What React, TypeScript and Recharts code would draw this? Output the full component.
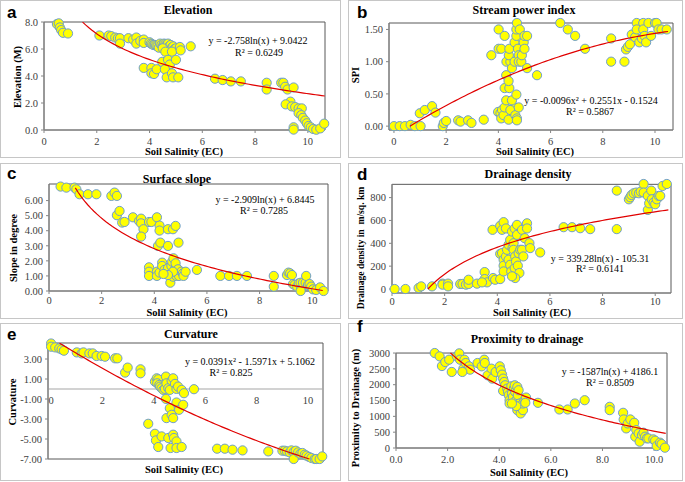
import React from "react";
import {
  ScatterChart,
  Scatter,
  XAxis,
  YAxis,
  ReferenceArea,
  ReferenceLine,
} from "recharts";

const SERIF = '"Liberation Serif", "Times New Roman", serif';
const SANS = '"Liberation Sans", Arial, sans-serif';

const MARKER_FILL = "#ffff00";
const MARKER_STROKE = "#6c9dcf";
const TREND_COLOR = "#e00000";
const AXIS_COLOR = "#868686";
const FRAME_COLOR = "#595959";

// [soil salinity EC, value]
const elevationPts = [
  [0.49, 7.85], [0.56, 7.9], [0.6, 7.6], [0.65, 7.4], [0.72, 7.2], [0.91, 7.15],
  [2.1, 7.0], [2.45, 7.0], [2.55, 6.95], [2.7, 6.85], [2.8, 6.8], [2.88, 6.8], [2.88, 6.4],
  [3.2, 6.8], [3.38, 6.7], [3.5, 6.85], [3.5, 6.4], [3.65, 6.6], [3.78, 6.7], [3.78, 6.45],
  [4.0, 6.5], [4.05, 6.4], [4.1, 6.35], [4.15, 6.3], [4.2, 6.3], [4.25, 6.25], [4.3, 6.2],
  [4.35, 6.1], [4.4, 6.4], [4.45, 6.3], [4.5, 6.2], [4.55, 6.4], [4.6, 6.35], [4.65, 6.3],
  [4.7, 6.4], [4.75, 6.2], [4.8, 6.3], [4.85, 6.1], [4.9, 6.2], [4.95, 6.0], [5.0, 6.05],
  [4.5, 6.05], [4.6, 5.8], [4.85, 5.8], [5.15, 6.15], [5.18, 5.9], [5.56, 6.2],
  [4.48, 5.05], [4.7, 5.2], [4.77, 4.85], [5.0, 5.2],
  [3.78, 4.6], [4.07, 4.6], [4.07, 4.2], [4.17, 4.15], [4.27, 4.5], [4.58, 4.5], [4.65, 3.9],
  [4.85, 4.2], [4.89, 3.9], [5.09, 3.9],
  [6.48, 3.8], [6.77, 3.7], [7.08, 3.6], [7.46, 3.6],
  [8.44, 3.5], [8.44, 3.0], [8.99, 3.5], [9.07, 3.5], [9.14, 3.2], [9.23, 3.0], [9.46, 3.15],
  [9.34, 2.1], [9.16, 1.9], [9.39, 1.75], [9.52, 1.7], [9.65, 1.6], [9.77, 1.6], [9.65, 1.25],
  [9.75, 1.1], [9.81, 0.9], [9.9, 0.7], [9.96, 0.5], [10.03, 0.3], [10.11, 0.2], [10.2, 0.08],
  [10.32, 0.02], [9.46, 0.2], [9.46, 0.03], [10.47, 0.12], [10.62, 0.47],
];

const spiPts = [
  [0, 0], [0.22, 0], [0.42, 0], [0.64, 0.02], [0.8, 0], [1.02, 0], [0.99, 0.2], [1.18, 0.25],
  [1.46, 0.31], [1.59, 0.21], [1.87, 0], [1.91, 0.05], [2.0, 0.08], [2.46, 0.09], [2.55, 0.07],
  [2.84, 0.09], [2.97, 0.05], [3.44, 0.1],
  [3.73, 1.1], [4.01, 1.5], [4.01, 1.2], [4.11, 1.2], [4.24, 1.4], [3.99, 0.22], [4.08, 0.2],
  [4.14, 0.25], [4.11, 0.12], [4.2, 0.17], [4.24, 0.29], [4.3, 0.4], [4.24, 0.59], [4.42, 0.59],
  [4.3, 0.79], [4.39, 0.7], [4.31, 1.0], [4.46, 1.0], [4.4, 1.1], [4.42, 1.2], [4.52, 0.9],
  [4.62, 1.0], [4.62, 1.3], [4.62, 0.29], [4.55, 0.13], [4.39, 0.1], [4.46, 0.25], [4.52, 0.4],
  [4.65, 0.17], [4.71, 0.12], [4.71, 0.09], [4.69, 0.49], [4.69, 1.4], [4.69, 1.5], [4.71, 1.6],
  [4.75, 1.2], [4.78, 1.1], [4.78, 1.0], [4.78, 0.29], [4.82, 1.5], [4.88, 1.0], [4.9, 1.1],
  [4.97, 1.3], [5.0, 1.4], [5.0, 1.2], [5.1, 1.4], [5.1, 0.9], [5.48, 0.79],
  [6.37, 1.6], [6.66, 1.5], [6.94, 1.4], [7.32, 1.2],
  [8.32, 1.0], [8.32, 1.36], [8.83, 1.0], [8.89, 1.19], [8.96, 1.23], [9.04, 1.27], [9.11, 1.42],
  [9.24, 1.38], [9.3, 1.6], [9.3, 1.5], [9.4, 1.3], [9.5, 1.36], [9.55, 1.6], [9.55, 1.5],
  [9.6, 1.4], [9.66, 1.3], [9.75, 1.6], [9.85, 1.4], [10.0, 1.6], [10.06, 1.6], [10.13, 1.5],
  [10.25, 1.5], [10.45, 1.5],
];

const slopePts = [
  [0.44, 6.93], [0.66, 6.86], [0.97, 6.86], [1.04, 6.75], [1.16, 6.42], [1.48, 6.42], [1.8, 6.42],
  [2.37, 6.31], [2.49, 6.53], [2.58, 6.31], [2.58, 5.03], [2.68, 5.31], [2.78, 4.54], [2.87, 4.58],
  [3.19, 4.89], [3.42, 4.65], [3.5, 4.8], [3.5, 4.49], [3.59, 4.1], [3.5, 3.61], [3.8, 4.58],
  [3.89, 4.58], [4.1, 4.89], [4.2, 4.34], [4.2, 4.01], [4.14, 2.99], [4.23, 3.21], [4.52, 2.99],
  [4.52, 4.1], [4.71, 4.1], [4.81, 4.32], [4.92, 3.21],
  [3.8, 1.57], [3.8, 1.28], [3.8, 1.0], [4.1, 1.28], [4.1, 1.0], [4.2, 1.22], [4.3, 1.88],
  [4.3, 1.66], [4.39, 1.4], [4.46, 1.17], [4.52, 1.5], [4.58, 1.06], [4.61, 0.55], [4.65, 1.66],
  [4.68, 1.95], [4.71, 0.95], [4.73, 2.17], [4.77, 1.4], [4.81, 1.84], [4.84, 1.0], [4.9, 1.22],
  [4.9, 1.44], [4.94, 1.0], [5.03, 1.28], [5.09, 1.17], [5.11, 1.0], [5.19, 1.28], [4.71, 1.28],
  [4.52, 1.06], [4.35, 1.13],
  [5.62, 1.4], [6.51, 1.0], [6.84, 1.0], [7.14, 1.0], [7.52, 1.0],
  [8.54, 1.0], [8.54, 0.29], [9.04, 1.06], [9.1, 1.22], [9.16, 1.17], [9.23, 1.06], [9.27, 0.46],
  [9.33, 0.4], [9.43, 0.29], [9.49, 0.51], [9.56, 0.55], [9.58, 0.11], [9.56, 0.0], [9.65, 0.55],
  [9.75, 0.55], [9.77, 1.0], [9.84, 0.4], [9.9, 0.46], [9.96, 0.29], [10.03, 0.11], [10.15, 0.07],
  [10.3, 0.24], [10.43, 0.0],
];

const drainagePts = [
  [0.1, 0], [0.51, 0], [1.01, 9], [1.11, 23], [1.52, 23], [1.92, 47], [1.92, 38], [2.13, 47],
  [2.13, 23], [2.59, 44], [2.68, 44], [2.81, 38], [2.91, 44], [2.91, 81], [3.23, 47], [3.52, 148],
  [3.52, 87], [3.61, 58], [3.42, 58], [3.84, 96], [3.82, 518], [3.92, 81], [4.11, 87],
  [4.11, 308], [4.11, 553], [4.18, 518], [4.24, 585], [4.18, 314], [4.24, 256], [4.24, 204],
  [4.24, 154], [4.33, 285], [4.33, 530], [4.37, 343], [4.43, 387], [4.43, 256], [4.49, 430],
  [4.49, 212], [4.53, 154], [4.56, 503], [4.58, 358], [4.62, 401], [4.62, 343], [4.66, 183],
  [4.66, 530], [4.68, 285], [4.71, 241], [4.75, 561], [4.75, 474], [4.78, 204], [4.81, 314],
  [4.84, 140], [4.87, 343], [4.94, 518], [4.94, 343], [4.99, 285], [5.04, 445], [5.13, 575],
  [5.13, 530], [5.22, 401], [5.25, 358], [5.63, 320], [4.68, 96], [4.56, 111],
  [6.52, 541], [6.84, 541], [7.15, 532], [7.53, 524],
  [8.54, 524], [8.54, 861], [9.0, 785], [9.05, 803], [9.1, 823], [9.18, 838], [9.28, 844],
  [9.38, 838], [9.45, 852], [9.56, 919], [9.56, 844], [9.72, 815], [9.72, 692], [9.77, 750],
  [9.85, 861], [9.87, 785], [9.94, 756], [10.0, 742], [10.06, 785], [10.13, 815], [10.19, 815],
  [10.28, 902], [10.44, 919],
];

const curvaturePts = [
  [0, 4.55], [0, 4.23], [0.16, 4.16], [0.32, 4.06], [0.41, 3.96], [0.5, 3.83], [1.0, 3.66],
  [1.19, 3.56], [1.26, 3.66], [1.49, 3.56], [1.62, 3.56], [1.77, 3.3], [1.97, 3.3], [2.1, 3.23],
  [2.49, 3.07], [2.58, 3.07], [2.88, 1.64], [2.98, 2.14], [3.48, 1.97], [3.48, 1.57],
  [3.78, -3.48], [4.04, 0.74], [4.11, 1.07], [4.17, 0.97], [4.13, 0.57], [4.21, 0.41],
  [4.24, 0.24], [4.3, 0.08], [4.37, -0.09], [4.43, 0.01], [4.47, 1.24], [4.49, 0.57], [4.56, 0.08],
  [4.62, -0.09], [4.69, 0.84], [4.75, 1.07], [4.82, 0.51], [4.88, 0.01], [4.94, 0.24],
  [5.08, -0.09], [5.17, -0.42], [5.56, -0.02], [4.47, -0.99], [4.62, -1.92], [4.49, -2.91],
  [4.69, -2.58], [4.75, -2.91], [4.88, -1.35], [4.98, -2.08], [5.14, -1.58],
  [4.04, -4.48], [4.08, -5.14], [4.17, -5.8], [4.3, -4.74], [4.56, -4.9], [4.75, -4.57],
  [4.78, -4.9], [4.88, -5.24], [4.65, -5.9], [4.88, -5.9], [5.08, -5.8],
  [6.46, -5.97], [6.76, -5.97], [7.06, -6.07], [7.45, -6.14],
  [8.45, -6.24], [9.0, -6.17], [9.09, -6.17], [9.18, -6.24], [9.29, -6.34], [9.35, -6.14],
  [9.44, -6.3], [9.52, -6.17], [9.44, -7.0], [9.61, -6.34], [9.7, -6.47], [9.78, -6.4],
  [9.87, -6.57], [9.94, -6.67], [10.04, -6.8], [10.13, -6.9], [10.26, -7.0], [10.32, -7.0],
  [10.45, -7.0], [10.55, -6.74],
];

const proximityPts = [
  [1.5, 3000], [1.69, 2895], [1.78, 2590], [1.91, 2716], [2.06, 2790], [2.16, 2402], [2.36, 2895],
  [2.45, 2990], [2.48, 2790], [2.61, 2507], [2.65, 2790], [2.7, 2685], [2.83, 2580], [2.87, 2475],
  [2.57, 2402], [3.16, 2685], [3.32, 2580], [3.42, 2790], [3.44, 2685], [3.55, 2297], [3.7, 2507],
  [3.73, 2192], [3.86, 2402], [4.02, 2580], [4.06, 2455], [4.11, 2318], [4.15, 2192], [4.19, 2087],
  [4.23, 1982], [4.25, 1804], [4.15, 1804], [4.31, 1877], [4.34, 1773], [4.37, 1668], [4.4, 1510],
  [4.4, 1406], [4.47, 1951], [4.49, 1720], [4.53, 1615], [4.57, 1877], [4.6, 1982], [4.62, 1773],
  [4.66, 1510], [4.7, 1930], [4.72, 1668], [4.75, 1825], [4.79, 1406], [4.7, 1196], [4.83, 1248],
  [4.83, 1091], [4.92, 1196], [4.92, 1406], [4.98, 1510], [5.04, 1594], [5.01, 1427], [4.66, 1322],
  [4.49, 1406],
  [5.5, 1427], [6.33, 1217], [6.65, 1217], [6.93, 1406], [7.31, 1510],
  [8.28, 1301], [8.28, 1196], [8.8, 1112], [8.82, 902], [8.92, 619], [8.98, 776], [9.08, 902],
  [9.23, 797], [9.27, 357], [9.31, 566], [9.4, 462], [9.44, 199], [9.53, 409], [9.59, 483],
  [9.65, 357], [9.72, 304], [9.78, 304], [9.97, 273], [10.04, 231], [10.1, 63], [10.23, 168],
  [10.29, 126], [10.42, 10],
];

// trend lines as printed on each panel
const elevationFit = (x: number) => -2.758 * Math.log(x) + 9.0422;
const spiFit = (x: number) => -0.0096 * x * x + 0.2551 * x - 0.1524;
const slopeFit = (x: number) => -2.909 * Math.log(x) + 6.8445;
const drainageFit = (x: number) => 339.28 * Math.log(x) - 105.31;
const curvatureFit = (x: number) => 0.0391 * x * x - 1.5971 * x + 5.1062;
const proximityFit = (x: number) => -1587 * Math.log(x) + 4186.1;

const xTicks = [0, 2, 4, 6, 8, 10];

function trendPoints(f: (x: number) => number, x0: number, x1: number) {
  const out = [];
  for (let i = 0; i <= 80; i++) {
    const x = x0 + ((x1 - x0) * i) / 80;
    out.push({ x, y: f(x) });
  }
  return out;
}

const toXY = (arr: number[][]) => arr.map(([x, y]) => ({ x, y }));

function Dot(props: any) {
  const { cx, cy } = props;
  if (cx == null || cy == null) return <g />;
  return (
    <circle
      cx={cx}
      cy={cy}
      r={4.6}
      fill={MARKER_FILL}
      stroke={MARKER_STROKE}
      strokeWidth={1}
    />
  );
}

const NoDot = () => <g />;

const tickStyle = { fill: "#404040", fontSize: 10.5, fontFamily: SERIF };

interface PanelProps {
  box: number[];
  plot: number[];
  xDomain: number[];
  yDomain: number[];
  yTicks: number[];
  xFmt: (v: number) => string;
  yFmt: (v: number) => string;
  pts: number[][];
  trend: { x: number; y: number }[];
  zeroAxis?: boolean;
  xTickMargin?: number;
  letter: string;
  letterPos: number[];
  title: string;
  titlePos: number[];
  eq: string;
  eqPos: number[];
  r2: string;
  r2Pos: number[];
  xLabel: string;
  xLabelPos: number[];
  yLabel: string;
  yLabelPos: number[];
  yLabelSize?: number;
}

function Panel(p: PanelProps) {
  const [fx, fy, fw, fh] = p.box;
  const [pl, pt, pr, pb] = p.plot;
  const zeroOffset =
    ((pb - pt) * (0 - p.yDomain[0])) / (p.yDomain[1] - p.yDomain[0]);

  const zeroTick = (props: any) => (
    <text
      x={props.x}
      y={props.y - zeroOffset}
      dy={15}
      textAnchor="middle"
      {...tickStyle}
    >
      {p.xFmt(props.payload.value)}
    </text>
  );

  return (
    <>
      <div
        style={{
          position: "absolute",
          left: fx,
          top: fy,
          width: fw,
          height: fh,
          boxSizing: "border-box",
          border: "1px solid #c6c6c6",
        }}
      />
      <div style={{ position: "absolute", left: fx, top: fy }}>
        <ScatterChart
          width={fw}
          height={fh}
          margin={{ top: pt - fy, right: fx + fw - pr, bottom: 0, left: 0 }}
        >
          <XAxis
            type="number"
            dataKey="x"
            domain={p.xDomain}
            ticks={xTicks}
            interval={0}
            height={fy + fh - pb}
            stroke={AXIS_COLOR}
            axisLine={!p.zeroAxis}
            tickLine={!p.zeroAxis}
            tickSize={p.zeroAxis ? 0 : 3}
            tickMargin={p.zeroAxis ? 0 : p.xTickMargin ?? 5}
            tick={p.zeroAxis ? zeroTick : tickStyle}
            tickFormatter={p.xFmt}
          />
          <YAxis
            type="number"
            dataKey="y"
            domain={p.yDomain}
            ticks={p.yTicks}
            interval={0}
            width={pl - fx}
            stroke={AXIS_COLOR}
            tickSize={3}
            tickMargin={3}
            tick={tickStyle}
            tickFormatter={p.yFmt}
          />
          <ReferenceArea
            x1={p.xDomain[0]}
            x2={p.xDomain[1]}
            y1={p.yDomain[0]}
            y2={p.yDomain[1]}
            fill="none"
            stroke={FRAME_COLOR}
            strokeWidth={1}
            ifOverflow="visible"
          />
          {p.zeroAxis && (
            <ReferenceLine y={0} stroke="#a6a6a6" strokeWidth={1.2} />
          )}
          <Scatter
            data={toXY(p.pts)}
            shape={Dot}
            isAnimationActive={false}
          />
          <Scatter
            data={p.trend}
            shape={NoDot}
            line={{ stroke: TREND_COLOR, strokeWidth: 1.2 }}
            lineType="joint"
            isAnimationActive={false}
          />
        </ScatterChart>
      </div>
      <svg
        width={685}
        height={482}
        style={{ position: "absolute", left: 0, top: 0, pointerEvents: "none" }}
      >
        <text
          x={p.letterPos[0]}
          y={p.letterPos[1]}
          fontFamily={SANS}
          fontWeight="bold"
          fontSize={17}
          fill="#000"
        >
          {p.letter}
        </text>
        <text
          x={p.titlePos[0]}
          y={p.titlePos[1]}
          textAnchor="middle"
          fontFamily={SERIF}
          fontWeight="bold"
          fontSize={12}
          fill="#000"
        >
          {p.title}
        </text>
        <text
          x={p.eqPos[0]}
          y={p.eqPos[1]}
          textAnchor="middle"
          fontFamily={SERIF}
          fontSize={10}
          fill="#000"
        >
          {p.eq}
        </text>
        <text
          x={p.r2Pos[0]}
          y={p.r2Pos[1]}
          textAnchor="middle"
          fontFamily={SERIF}
          fontSize={10}
          fill="#000"
        >
          {p.r2}
        </text>
        <text
          x={p.xLabelPos[0]}
          y={p.xLabelPos[1]}
          textAnchor="middle"
          fontFamily={SERIF}
          fontWeight="bold"
          fontSize={10.5}
          fill="#000"
        >
          {p.xLabel}
        </text>
        <text
          transform={`translate(${p.yLabelPos[0]},${p.yLabelPos[1]}) rotate(-90)`}
          textAnchor="middle"
          fontFamily={SERIF}
          fontWeight="bold"
          fontSize={p.yLabelSize ?? 10.5}
          fill="#000"
          style={{ whiteSpace: "pre" }}
        >
          {p.yLabel}
        </text>
      </svg>
    </>
  );
}

const int = (v: number) => String(v);
const fix1 = (v: number) => v.toFixed(1);
const fix2 = (v: number) => v.toFixed(2);

export default function App() {
  return (
    <div
      style={{
        position: "absolute",
        left: 0,
        top: 0,
        width: 685,
        height: 482,
        background: "#fff",
      }}
    >
      <Panel
        box={[0, 0, 341, 158]}
        plot={[44, 22, 325, 130]}
        xDomain={[0, 10.65]}
        yDomain={[0, 8]}
        yTicks={[0, 2, 4, 6, 8]}
        xFmt={int}
        yFmt={fix1}
        pts={elevationPts}
        trend={trendPoints(elevationFit, 1.462, 10.64)}
        letter="a"
        letterPos={[7, 18]}
        title="Elevation"
        titlePos={[188, 14]}
        eq="y = -2.758ln(x) + 9.0422"
        eqPos={[258, 44]}
        r2="R² = 0.6249"
        r2Pos={[259, 56]}
        xLabel="Soil Salinity (EC)"
        xLabelPos={[184, 155]}
        yLabel="Elevation (M)"
        yLabelPos={[21, 77]}
      />
      <Panel
        box={[348, 0, 335, 158]}
        plot={[389, 23, 673, 130]}
        xDomain={[-0.19, 10.69]}
        yDomain={[-0.06, 1.6]}
        yTicks={[0, 0.5, 1, 1.5]}
        xFmt={int}
        yFmt={fix2}
        pts={spiPts}
        trend={trendPoints(spiFit, 0.61, 10.5)}
        letter="b"
        letterPos={[357, 18]}
        title="Stream power index"
        titlePos={[524, 14]}
        eq="y = -0.0096x² + 0.2551x - 0.1524"
        eqPos={[591, 104]}
        r2="R² = 0.5867"
        r2Pos={[590, 115]}
        xLabel="Soil Salinity (EC)"
        xLabelPos={[535, 155]}
        yLabel="SPI"
        yLabelPos={[359, 75]}
      />
      <Panel
        box={[0, 163, 341, 156]}
        plot={[49, 184, 328, 291]}
        xDomain={[0, 10.6]}
        yDomain={[0, 7.1]}
        yTicks={[0, 1, 2, 3, 4, 5, 6]}
        xFmt={int}
        yFmt={fix2}
        pts={slopePts}
        trend={trendPoints(slopeFit, 1.0, 10.4)}
        xTickMargin={3}
        letter="c"
        letterPos={[7, 179]}
        title="Surface slope"
        titlePos={[177, 183]}
        eq="y = -2.909ln(x) + 6.8445"
        eqPos={[265, 203]}
        r2="R² = 0.7285"
        r2Pos={[264, 214]}
        xLabel="Solil Salinity (EC)"
        xLabelPos={[187, 315.5]}
        yLabel="Slope in degree"
        yLabelPos={[17, 248]}
      />
      <Panel
        box={[348, 163, 335, 156]}
        plot={[392, 184, 671, 293]}
        xDomain={[0, 10.6]}
        yDomain={[-35, 916]}
        yTicks={[0, 200, 400, 600, 800]}
        xFmt={int}
        yFmt={int}
        pts={drainagePts}
        trend={trendPoints(drainageFit, 1.364, 10.5)}
        xTickMargin={2}
        letter="d"
        letterPos={[357, 180]}
        title="Drainage density"
        titlePos={[528, 178]}
        eq="y = 339.28ln(x) - 105.31"
        eqPos={[600, 262]}
        r2="R² = 0.6141"
        r2Pos={[600, 272]}
        xLabel="Soil Salinity (EC)"
        xLabelPos={[532, 316]}
        yLabel="Drainage density in  m/sq. km"
        yLabelPos={[364, 248]}
        yLabelSize={9.6}
      />
      <Panel
        box={[0, 323, 341, 158]}
        plot={[48, 343, 323, 459]}
        xDomain={[-0.12, 10.58]}
        yDomain={[-7, 4.6]}
        yTicks={[-7, -5, -3, -1, 1, 3]}
        xFmt={int}
        yFmt={fix2}
        pts={curvaturePts}
        trend={trendPoints(curvatureFit, 0.33, 10.05)}
        zeroAxis
        letter="e"
        letterPos={[7, 340]}
        title="Curvature"
        titlePos={[191, 338]}
        eq="y = 0.0391x² - 1.5971x + 5.1062"
        eqPos={[250, 365]}
        r2="R² = 0.825"
        r2Pos={[231, 376]}
        xLabel="Soil Salinity (EC)"
        xLabelPos={[184, 473]}
        yLabel="Curvature"
        yLabelPos={[16, 402]}
      />
      <Panel
        box={[348, 323, 335, 158]}
        plot={[396, 353, 667, 448]}
        xDomain={[0, 10.5]}
        yDomain={[0, 3000]}
        yTicks={[0, 500, 1000, 1500, 2000, 2500, 3000]}
        xFmt={fix1}
        yFmt={int}
        pts={proximityPts}
        trend={trendPoints(proximityFit, 2.11, 10.45)}
        letter="f"
        letterPos={[357, 332]}
        title="Proximity to drainage"
        titlePos={[527, 343]}
        eq="y = -1587ln(x) + 4186.1"
        eqPos={[610, 375]}
        r2="R² = 0.8509"
        r2Pos={[610, 386]}
        xLabel="Soil Salinity (EC)"
        xLabelPos={[529, 476]}
        yLabel="Proximity to Drainage (m)"
        yLabelPos={[359, 408]}
      />
    </div>
  );
}
